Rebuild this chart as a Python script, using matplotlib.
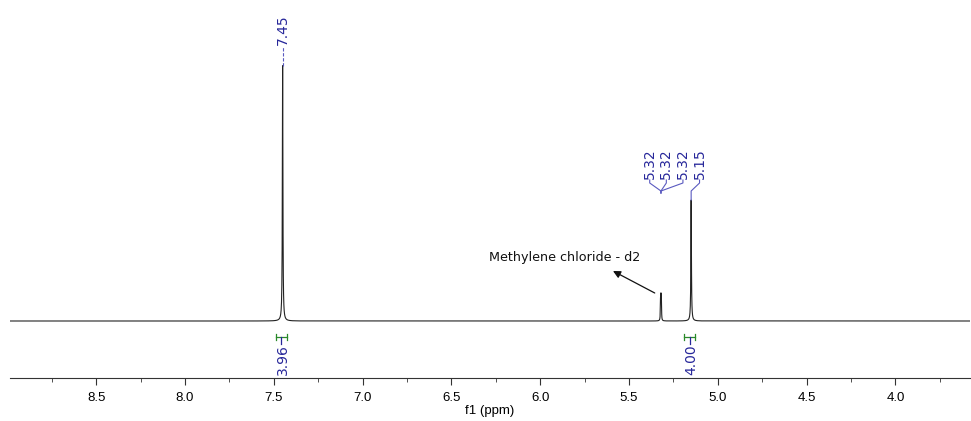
import numpy as np
import matplotlib.pyplot as plt

# peak list (ppm, height, half width)
peak_ppm = [7.450, 5.3225, 5.3200, 5.3175, 5.150]
peak_height = [256, 19, 22, 19, 121]
peak_hw = [0.0018, 0.0011, 0.0011, 0.0011, 0.0018]

# labels on top of the peaks
label_ppm = [7.45, 5.32, 5.32, 5.32, 5.15]
label_text = ["7.45", "5.32", "5.32", "5.32", "5.15"]

# integrals
integral_ppm = [7.45, 5.15]
integral_text = ["3.96", "4.00"]

solvent_text = "Methylene chloride - d2"
xticks = [8.5, 8.0, 7.5, 7.0, 6.5, 6.0, 5.5, 5.0, 4.5, 4.0]

blue = "#27279a"
lblue = "#5a5ac0"
green = "#2a8a2a"

fig = plt.figure(figsize=(9.71, 4.21), dpi=100)
ax = fig.add_axes([10 / 971, 43 / 421, 960 / 971, 378 / 421])

# spectrum (lorentzian line shape from peak list)
x = np.linspace(3.58, 8.985, 20000)
y = np.zeros_like(x)
for p, h, w in zip(peak_ppm, peak_height, peak_hw):
    y += h * w**2 / ((x - p) ** 2 + w**2)
ax.plot(x, y, color="#222222", lw=0.8)

ax.set_xlim(8.985, 3.58)
ax.set_ylim(-57, 321)


def top(p):
    i = np.argmin(np.abs(x - p))
    return y[i]


# single peak label
ax.plot([7.45, 7.45], [top(7.45), 275], color=lblue, lw=0.8, ls=(0, (3, 1.5)))
ax.text(7.45, 276, label_text[0], rotation=90, ha="center", va="bottom",
        color=blue, fontsize=10, family="DejaVu Sans")

# grouped labels for 5.32 x3 and 5.15
grp_idx = [1, 2, 3, 4]
spacing = 0.0935
center = 5.243
for k, i in enumerate(grp_idx):
    lx = center + spacing * (1.5 - k)
    p = label_ppm[i]
    ax.text(lx, 142, label_text[i], rotation=90, ha="center", va="bottom",
            color=blue, fontsize=10, family="DejaVu Sans")
    ylow = 128 if p > 5.2 else top(p)
    ax.plot([lx, lx, p, p], [141, 138, 130, ylow], color=lblue, lw=0.8)

# integrals
for p, t in zip(integral_ppm, integral_text):
    hw = 0.03
    c = p + 0.008
    ax.plot([c - hw, c + hw], [-16, -16], color=green, lw=0.9)
    ax.plot([c - hw, c - hw], [-13, -19], color=green, lw=0.9)
    ax.plot([c + hw, c + hw], [-13, -19], color=green, lw=0.9)
    ax.plot([c, c], [-16, -23], color=blue, lw=0.9)
    ax.text(p, -23, t, rotation=90, ha="center", va="top",
            color=blue, fontsize=10, family="DejaVu Sans")

# solvent annotation
ax.text(5.865, 64, solvent_text, ha="center", va="center", fontsize=9.2,
        family="DejaVu Sans", color="#111111")
ax.annotate("", xy=(5.59, 50), xytext=(5.355, 28),
            arrowprops=dict(arrowstyle="-|>", color="#111111", lw=0.9,
                            mutation_scale=11, shrinkA=0, shrinkB=0))

for s in ["top", "left", "right"]:
    ax.spines[s].set_visible(False)
ax.spines["bottom"].set_color("#333333")
ax.set_yticks([])
ax.set_xticks(xticks)
ax.set_xticklabels([f"{v:.1f}" for v in xticks], family="Liberation Sans", fontsize=9.5)
ax.set_xticks(np.arange(3.75, 9.0, 0.5), minor=True)
ax.tick_params(axis="x", which="major", length=5, color="#333333", pad=5)
ax.tick_params(axis="x", which="minor", length=3, color="#333333")
ax.set_xlabel("f1 (ppm)", family="Liberation Sans", fontsize=9.5, labelpad=1)

fig.savefig("out.png", dpi=100)
